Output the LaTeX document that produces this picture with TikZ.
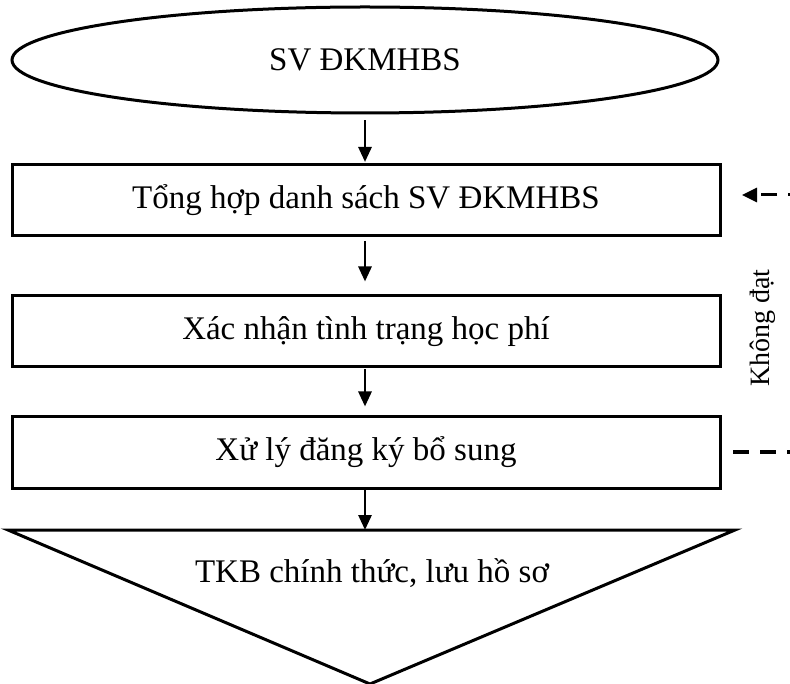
\documentclass[tikz,border=0pt]{standalone}
\usepackage{fontspec}
\setmainfont{Liberation Serif}
\usetikzlibrary{shapes.geometric,arrows.meta}
\tikzset{
  ln/.style={line width=3pt},
  stepbox/.style={draw, ln, rectangle, minimum width=708pt, minimum height=71pt, inner sep=0pt, font=\fontsize{33}{39}\selectfont},
  startnode/.style={draw, ln, ellipse, minimum width=706pt, minimum height=106pt, inner sep=0pt, font=\fontsize{33}{39}\selectfont},
  flow/.style={line width=2.8pt, -{Triangle[length=15pt,width=13pt]}},
  fb/.style={line width=3pt, dash pattern=on 16pt off 11pt, -{Triangle[length=15pt,width=14pt]}}
}
\begin{document}
\begin{tikzpicture}[x=1pt,y=-1pt]
\useasboundingbox (0,0) rectangle (790,684);
\clip (0,0) rectangle (790,684);
\node[startnode] (start) at (365,60) {SV ĐKMHBS};
\node[stepbox] (b1) at (366,200) {Tổng hợp danh sách SV ĐKMHBS};
\node[stepbox] (b2) at (366,331.5) {Xác nhận tình trạng học phí};
\node[stepbox] (b3) at (366,452.5) {Xử lý đăng ký bổ sung};
\coordinate (tl) at (8,530);
\coordinate (tr) at (735,530);
\coordinate (tb) at (370,684);
\coordinate (tt) at (365,530);
\draw[ln, line join=miter] (tl) -- (tr) -- (tb) -- cycle;
\node[font=\fontsize{33}{39}\selectfont] (t4) at (372,573) {TKB chính thức, lưu hồ sơ};
\draw[flow, shorten <=6pt, shorten >=1pt] (start.south -| 365,0) -- (b1.north -| 365,0);
\draw[flow, shorten <=4pt, shorten >=13pt] (b1.south -| 365,0) -- (b2.north -| 365,0);
\draw[flow, shorten <=1pt, shorten >=9pt] (b2.south -| 365,0) -- (b3.north -| 365,0);
\draw[flow] (b3.south -| 365,0) -- (tt);
\coordinate (fs) at (733,452);
\coordinate (fc1) at (802,452);
\coordinate (fe) at (742,195);
\draw[fb] (fs) -- (fc1) |- (fe);
\node[rotate=90, font=\fontsize{28}{34}\selectfont] (nd) at (763,328) {Không đạt};
\end{tikzpicture}
\end{document}
